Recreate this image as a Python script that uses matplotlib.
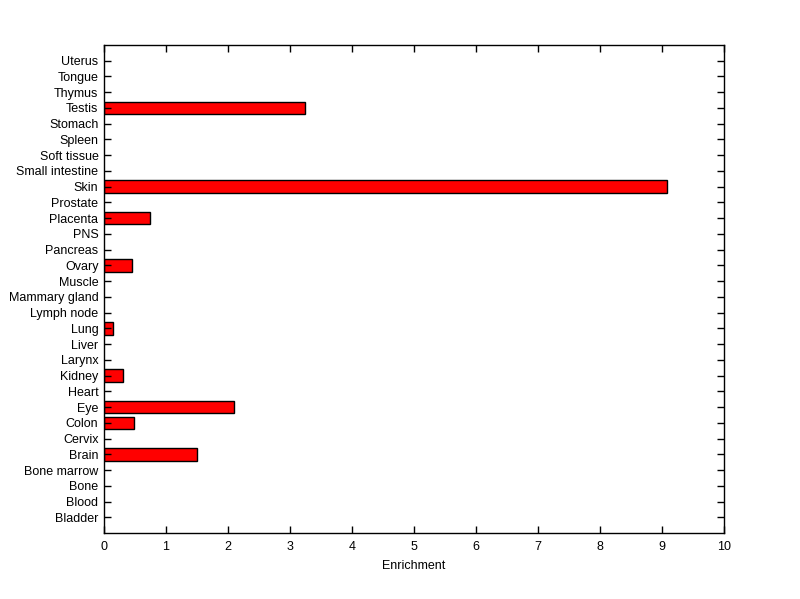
import numpy as np
import matplotlib
matplotlib.use('Agg')
import matplotlib.pyplot as plt

tissues = ['Bladder', 'Blood', 'Bone', 'Bone marrow', 'Brain', 'Cervix', 'Colon',
           'Eye', 'Heart', 'Kidney', 'Larynx', 'Liver', 'Lung', 'Lymph node',
           'Mammary gland', 'Muscle', 'Ovary', 'Pancreas', 'PNS', 'Placenta',
           'Prostate', 'Skin', 'Small intestine', 'Soft tissue', 'Spleen',
           'Stomach', 'Testis', 'Thymus', 'Tongue', 'Uterus']
enrichment = [0, 0, 0, 0, 1.50, 0, 0.48,
              2.09, 0, 0.31, 0, 0, 0.14, 0,
              0, 0, 0.45, 0, 0, 0.74,
              0, 9.08, 0, 0, 0,
              0, 3.24, 0, 0, 0]

plt.rcParams['font.family'] = ['Liberation Sans', 'DejaVu Sans']

fig = plt.figure(figsize=(8, 5.99), dpi=100)
ax = fig.add_axes([0.13, 0.110, 0.775, 0.815])

ypos = np.arange(1, len(tissues) + 1)
vals = np.array(enrichment)
mask = vals > 0
ax.barh(ypos[mask], vals[mask], height=0.8, color='#ff0000',
        edgecolor='black', linewidth=1)

ax.set_xlim(0, 10)
ax.set_ylim(0, len(tissues) + 1)
ax.set_xticks(range(0, 11))
ax.set_yticks(ypos)
ax.set_yticklabels(tissues)
ax.set_xlabel('Enrichment', fontsize=9, labelpad=5)

ax.tick_params(direction='in', length=5, width=1, labelsize=9,
               top=True, right=True)
ax.tick_params(axis='x', pad=6)
ax.tick_params(axis='y', pad=4)
for s in ax.spines.values():
    s.set_linewidth(1)

fig.savefig('out.png', dpi=100)
